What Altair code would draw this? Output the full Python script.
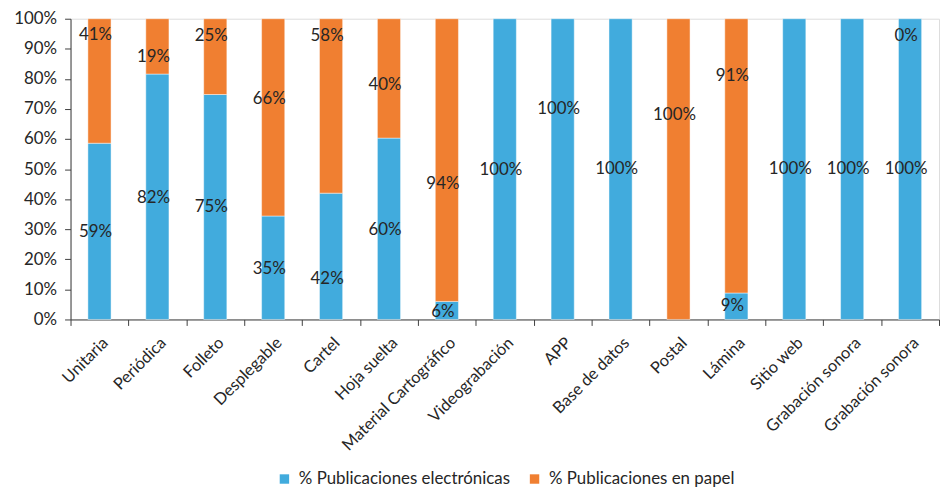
import altair as alt
import pandas as pd

categories = ["Unitaria", "Periódica", "Folleto", "Desplegable", "Cartel", "Hoja suelta",
              "Material Cartográfico", "Videograbación", "APP", "Base de datos", "Postal",
              "Lámina", "Sitio web", "Grabación sonora", "Grabación sonora "]
electronic = [58.6, 81.6, 74.8, 34.4, 42.0, 60.3, 6.0, 100, 100, 100, 0, 8.8, 100, 100, 100]
paper = [round(100 - v, 1) for v in electronic]
elec_labels = ["59%", "82%", "75%", "35%", "42%", "60%", "6%", "100%", "100%", "100%", "",
               "9%", "100%", "100%", "100%"]
paper_labels = ["41%", "19%", "25%", "66%", "58%", "40%", "94%", "", "", "", "100%",
                "91%", "", "", "0%"]
# label anchor heights (in % units) as placed in the original chart
elec_label_at = [29.0, 40.4, 37.4, 16.8, 13.5, 29.7, 2.6, 49.8, 70.0, 50.0, 0, 4.4, 50.0, 50.0, 50.0]
paper_label_at = [94.6, 87.1, 94.3, 73.4, 94.3, 78.1, 45.1, 0, 0, 0, 67.9, 81.1, 0, 0, 94.3]
y_ticks = list(range(0, 101, 10))

series = ["% Publicaciones electrónicas", "% Publicaciones en papel"]
colors = ["#41ABDD", "#F07F31"]

rows = []
for i, c in enumerate(categories):
    if electronic[i] > 0:
        rows.append({"cat": c, "serie": series[0], "ord": 0, "val": electronic[i]})
    if paper[i] > 0:
        rows.append({"cat": c, "serie": series[1], "ord": 1, "val": paper[i]})
bars_df = pd.DataFrame(rows)

lab_rows = []
for i, c in enumerate(categories):
    if elec_labels[i]:
        lab_rows.append({"cat": c, "txt": elec_labels[i], "pos": elec_label_at[i]})
    if paper_labels[i]:
        lab_rows.append({"cat": c, "txt": paper_labels[i], "pos": paper_label_at[i]})
labels_df = pd.DataFrame(lab_rows)

FONT = "Lato"
TXT = "#262626"
AX = "#404040"

x_axis = alt.Axis(labelAngle=-45, labelAlign="right", labelBaseline="top",
                  labelFontSize=16.5, labelColor=TXT, labelFont=FONT,
                  labelLimit=0, labelOverlap=False,
                  tickBand="extent", tickSize=6, tickColor=AX,
                  domainColor=AX, labelPadding=9)
y_axis = alt.Axis(values=y_ticks, labelExpr="datum.value + '%'",
                  grid=False, labelFontSize=17, labelColor=TXT, labelFont=FONT,
                  labelOverlap=False, labelBaseline="middle",
                  tickSize=6, tickColor=AX, domainColor=AX, labelPadding=8)
x_scale = alt.Scale(paddingInner=0, paddingOuter=0)
y_scale = alt.Scale(domain=[0, 100], nice=False)

bars = alt.Chart(bars_df).mark_bar(width=alt.RelativeBandSize(0.4),
                                   stroke="#ffffff", strokeOpacity=0.45, strokeWidth=1).encode(
    x=alt.X("cat:N", sort=categories, title=None, scale=x_scale, axis=x_axis),
    y=alt.Y("val:Q", stack="zero", title=None, scale=y_scale, axis=y_axis),
    color=alt.Color("serie:N", scale=alt.Scale(domain=series, range=colors),
                    legend=alt.Legend(title=None, orient="none", direction="horizontal",
                                      legendX=207, legendY=455, symbolType="square",
                                      symbolSize=90, symbolStrokeWidth=0,
                                      labelFontSize=17, labelFont=FONT, labelColor=TXT,
                                      labelLimit=0, labelOffset=6, columnPadding=16)),
    order=alt.Order("ord:Q", sort="ascending"),
)

texts = alt.Chart(labels_df).mark_text(fontSize=17, font=FONT, color=TXT, dx=-4,
                                       baseline="middle", align="center").encode(
    x=alt.X("cat:N", sort=categories, title=None, scale=x_scale, axis=x_axis),
    y=alt.Y("pos:Q", title=None, scale=y_scale, axis=y_axis),
    text="txt:N",
)

chart = alt.layer(bars, texts).properties(
    width=875, height=303,
    padding={"left": 5, "top": 0, "right": 0, "bottom": 0},
).configure_view(stroke=None).configure(font=FONT)

chart.save("out.html", embed_options={"renderer": "svg", "actions": False})
